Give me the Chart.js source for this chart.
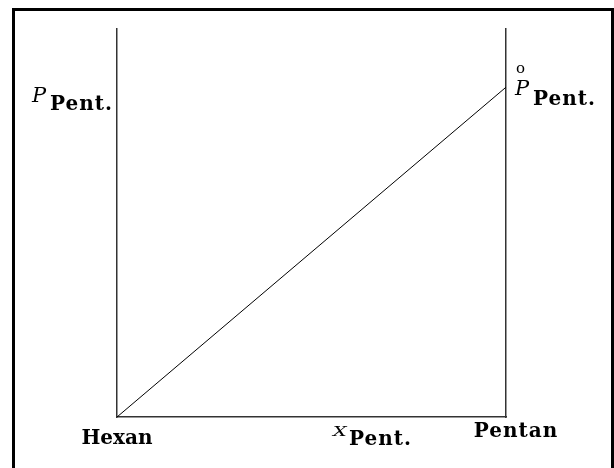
<!DOCTYPE html>
<html>
<head>
<meta charset="utf-8">
<script src="https://cdn.jsdelivr.net/npm/chart.js@4/dist/chart.umd.min.js"></script>
<style>
  html, body { margin: 0; padding: 0; background: #fff; }
  #wrap { position: relative; width: 614px; height: 468px; overflow: hidden; }
  #frame { position: absolute; left: 12px; top: 8px; width: 602px; height: 480px;
           border: 3px solid #000; border-bottom: none; box-sizing: border-box; }
  canvas { position: absolute; left: 0; top: 0; }
</style>
</head>
<body>
<div id="wrap">
  <div id="frame"></div>
  <canvas id="raoult" width="614" height="468"></canvas>
</div>
<script>
// mole fraction of pentane (0 = pure hexane, 1 = pure pentane)
const molFraction = [0, 1];
// partial pressure of pentane, relative to the axis height
const pentanePressure = [0, 0.85];
const endLabels = ['Hexan', 'Pentan'];
const xAxisSymbol = 'X';
const pressureSymbol = 'P';
const subscript = 'Pent.';
const pureMark = 'o';

const serif = '"DejaVu Serif", "Liberation Serif", serif';

// draws the symbols and the end labels next to the axes
const labelPlugin = {
  id: 'labels',
  afterDraw(chart) {
    const ctx = chart.ctx;
    const x = chart.scales.x;
    const y = chart.scales.y;
    const left = x.getPixelForValue(molFraction[0]);
    const right = x.getPixelForValue(molFraction[1]);
    const bottom = y.getPixelForValue(0);
    const top = y.getPixelForValue(pentanePressure[1]);
    const bold = 'bold 20px ' + serif;
    ctx.save();
    ctx.fillStyle = '#000';
    ctx.textBaseline = 'alphabetic';
    ctx.textAlign = 'left';

    // left axis: P_Pent.
    ctx.letterSpacing = '0px';
    ctx.font = 'italic 21px ' + serif;
    ctx.fillText(pressureSymbol, left - 85, top + 15);
    ctx.letterSpacing = '1px';
    ctx.font = bold;
    ctx.fillText(subscript, left - 67, top + 23);

    // right axis: P°_Pent.
    ctx.letterSpacing = '0px';
    ctx.font = 'italic 21px ' + serif;
    ctx.fillText(pressureSymbol, right + 9, top + 8);
    ctx.font = '15px ' + serif;
    ctx.fillText(pureMark, right + 10, top - 14);
    ctx.letterSpacing = '1px';
    ctx.font = bold;
    ctx.fillText(subscript, right + 27, top + 18);

    // bottom: end labels
    ctx.textAlign = 'center';
    ctx.letterSpacing = '0px';
    ctx.font = bold;
    ctx.fillText(endLabels[0], left, bottom + 27);
    ctx.letterSpacing = '1px';
    ctx.fillText(endLabels[1], right + 10, bottom + 20);

    // bottom: X_Pent. (a short, wide X)
    ctx.textAlign = 'left';
    ctx.letterSpacing = '0px';
    ctx.save();
    ctx.translate(left + 216, bottom + 19);
    ctx.scale(1.6, 1);
    ctx.font = 'italic 12px ' + serif;
    ctx.fillText(xAxisSymbol, 0, 0);
    ctx.restore();
    ctx.letterSpacing = '1px';
    ctx.font = bold;
    ctx.fillText(subscript, left + 232, bottom + 28);
    ctx.restore();
  }
};

const hiddenAxis = {
  grid: { display: false, drawTicks: false },
  ticks: { display: false },
  border: { display: true, color: '#333', width: 1.5 }
};

new Chart(document.getElementById('raoult').getContext('2d'), {
  type: 'scatter',
  data: {
    datasets: [{
      data: molFraction.map((v, i) => ({ x: v, y: pentanePressure[i] })),
      showLine: true,
      borderColor: '#000',
      borderWidth: 1,
      pointRadius: 0,
      fill: false
    }]
  },
  options: {
    responsive: false,
    animation: false,
    layout: { padding: { left: 117, right: 108, top: 29, bottom: 51 } },
    scales: {
      x: Object.assign({ type: 'linear', min: 0, max: 1 }, hiddenAxis),
      y: Object.assign({ type: 'linear', min: 0, max: 1, position: 'left' }, hiddenAxis),
      y2: Object.assign({ type: 'linear', min: 0, max: 1, position: 'right' }, hiddenAxis)
    },
    plugins: {
      legend: { display: false },
      tooltip: { enabled: false }
    }
  },
  plugins: [labelPlugin]
});
</script>
</body>
</html>
